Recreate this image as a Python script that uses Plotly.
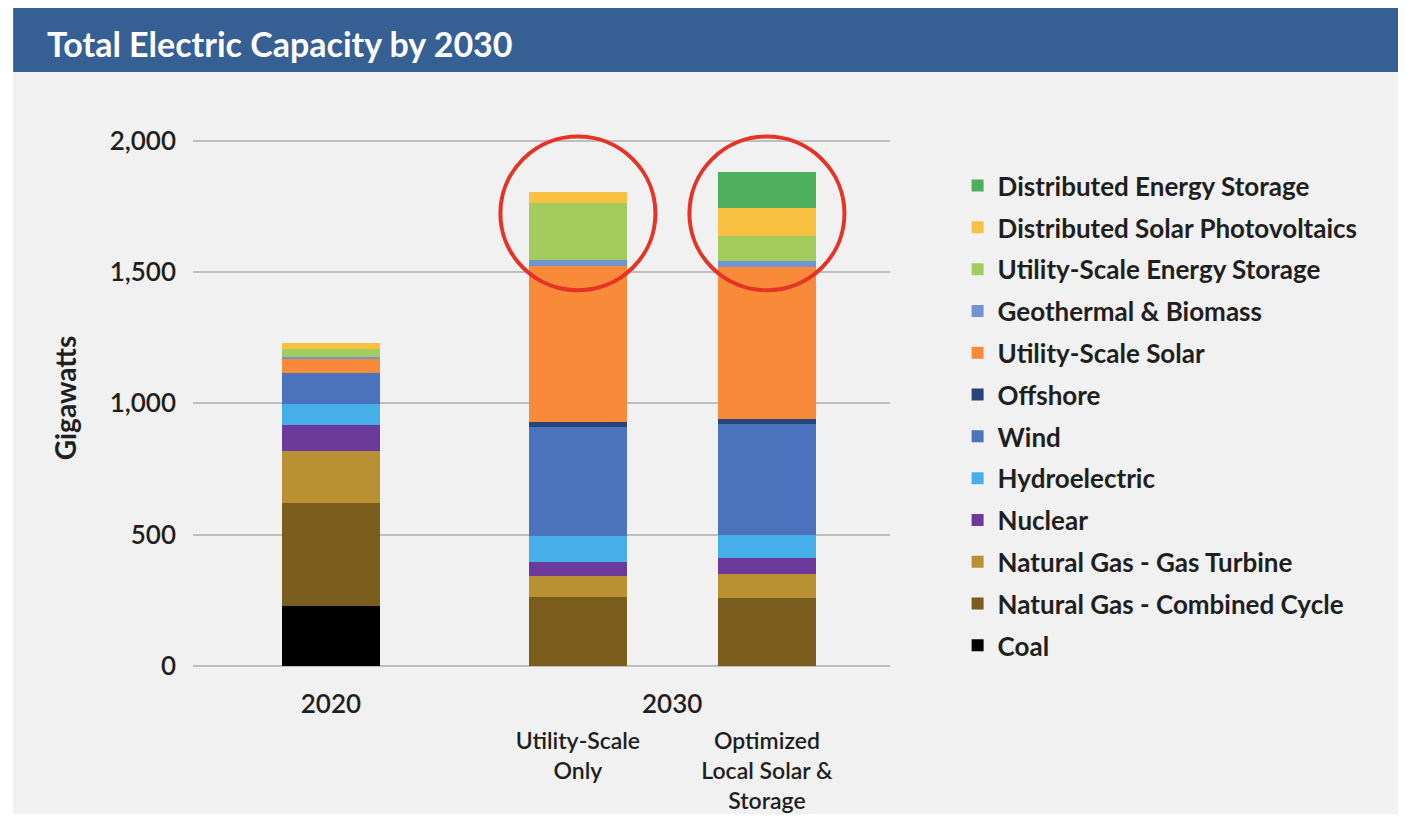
import plotly.graph_objects as go

# categories
year_2020 = ["2020"]
scenarios_2030 = ["Utility-Scale<br>Only", "Optimized<br>Local Solar &<br>Storage"]

# capacity in GW: [2020, 2030 utility-scale only, 2030 optimized]
coal = [228, 0, 0]
gas_combined_cycle = [393, 263, 257]
gas_turbine = [198, 81, 92]
nuclear = [98, 52, 63]
hydro = [80, 98, 85]
wind = [117, 416, 425]
offshore = [0, 17, 19]
utility_solar = [53, 597, 579]
geo_biomass = [10, 20, 23]
utility_storage = [29, 219, 95]
dist_solar = [25, 40, 104]
dist_storage = [0, 0, 137]

series = [
    ("Coal", coal, "#000000"),
    ("Natural Gas - Combined Cycle", gas_combined_cycle, "#7B5D1E"),
    ("Natural Gas - Gas Turbine", gas_turbine, "#B99132"),
    ("Nuclear", nuclear, "#6B3A9B"),
    ("Hydroelectric", hydro, "#46AEE8"),
    ("Wind", wind, "#4C74BE"),
    ("Offshore", offshore, "#2A4479"),
    ("Utility-Scale Solar", utility_solar, "#F88A3A"),
    ("Geothermal & Biomass", geo_biomass, "#7095D0"),
    ("Utility-Scale Energy Storage", utility_storage, "#A2CC5E"),
    ("Distributed Solar Photovoltaics", dist_solar, "#F8C142"),
    ("Distributed Energy Storage", dist_storage, "#4DAF5B"),
]

FONT = "Lato, 'Open Sans', sans-serif"
TXT = "#1f1f1f"

fig = go.Figure()

for i, (name, vals, color) in enumerate(series):
    # legend lists the top of the stack first
    rank = len(series) - i
    fig.add_trace(go.Bar(
        x=year_2020, y=vals[:1], name=name, legendgroup=name, legendrank=rank,
        marker=dict(color=color, line=dict(width=0)),
        xaxis="x", yaxis="y",
    ))
    fig.add_trace(go.Bar(
        x=scenarios_2030, y=vals[1:], name=name, legendgroup=name, legendrank=rank,
        showlegend=False, marker=dict(color=color, line=dict(width=0)),
        xaxis="x2", yaxis="y",
    ))

# red highlight circles around the top of the 2030 bars
for i in range(len(scenarios_2030)):
    fig.add_shape(type="circle", xref="x2", yref="y",
                  x0=i - 0.41, x1=i + 0.41, y0=1430, y1=2015,
                  line=dict(color="#E53326", width=4), layer="above")

# background panel and title banner
fig.add_shape(type="rect", xref="paper", yref="paper",
              x0=-0.258, x1=1.729, y0=-0.278, y1=1.108,
              fillcolor="#F1F1F1", line=dict(width=0), layer="below")
fig.add_shape(type="rect", xref="paper", yref="paper",
              x0=-0.258, x1=1.729, y0=1.108, y1=1.2276,
              fillcolor="#365F93", line=dict(width=0), layer="below")

fig.add_annotation(text="<b>Total Electric Capacity by 2030</b>", xref="paper", yref="paper",
                   x=-0.2125, y=1.162, xanchor="left", yanchor="middle", showarrow=False,
                   font=dict(family=FONT, size=34, color="white"))
fig.add_annotation(text="2030", xref="x2", yref="paper", x=0.5, y=0,
                   yshift=-37, yanchor="middle", showarrow=False,
                   font=dict(family=FONT, size=26, color=TXT, weight=600))

fig.update_layout(
    width=1390, height=806,
    barmode="stack", bargap=0.48,
    paper_bgcolor="white", plot_bgcolor="rgba(0,0,0,0)",
    margin=dict(l=185, r=508, t=122, b=148),
    font=dict(family=FONT, size=26, color=TXT),
    xaxis=dict(domain=[0, 0.393], range=[-0.73, 0.72], showgrid=False, showline=False,
               automargin=False, tickfont=dict(size=26, weight=600), ticklabelstandoff=20),
    xaxis2=dict(domain=[0.393, 1], range=[-0.587, 1.651], anchor="y", showgrid=False,
                showline=False, automargin=False,
                tickfont=dict(size=23, weight=600), ticklabelstandoff=59),
    yaxis=dict(range=[0, 2040], tickvals=[0, 500, 1000, 1500, 2000], tickformat=",",
               showgrid=True, gridcolor="#BEBEBE", gridwidth=1.5, zeroline=True,
               zerolinecolor="#BEBEBE", zerolinewidth=1.5, automargin=False,
               tickfont=dict(size=26, weight=600), ticklabelstandoff=16,
               title=dict(text="<b>Gigawatts</b>", standoff=24, font=dict(size=28))),
    legend=dict(traceorder="grouped", x=1.097, y=0.94, xanchor="left", yanchor="top",
                bgcolor="rgba(0,0,0,0)", tracegroupgap=5,
                font=dict(family=FONT, size=26, color=TXT, weight="bold")),
)

fig.write_html("out.html")
